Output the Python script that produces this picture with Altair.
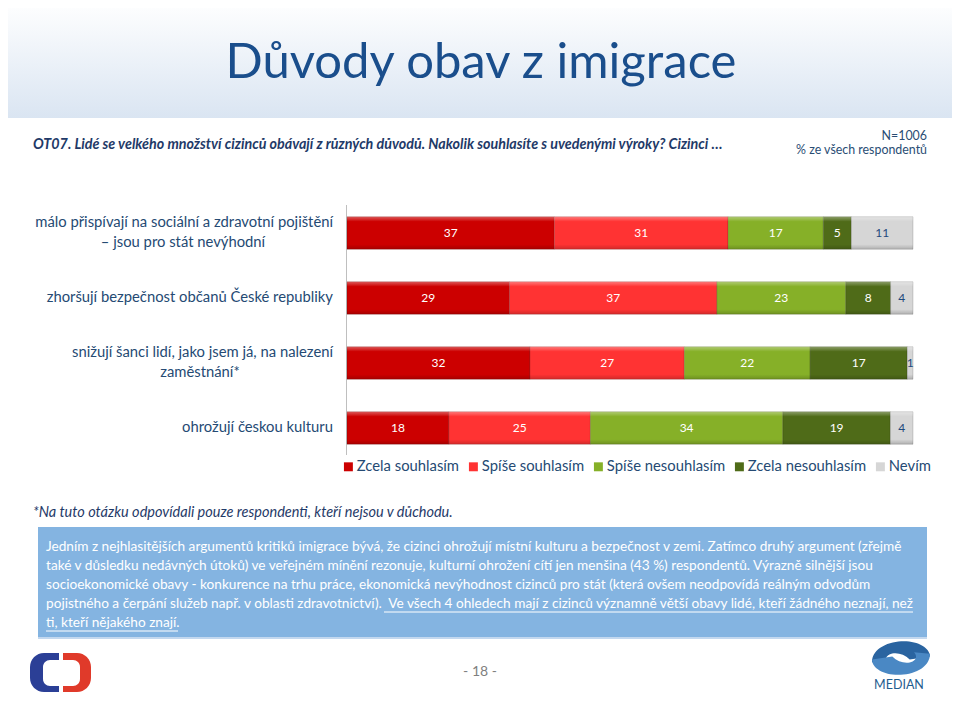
import altair as alt
import pandas as pd

# ---------------- data ----------------
title_text = "Důvody obav z imigrace"
question_text = ("OT07. Lidé se velkého množství cizinců obávají z různých důvodů. "
                 "Nakolik souhlasíte s uvedenými výroky? Cizinci …")
sample_lines = ["N=1006", "% ze všech respondentů"]
footnote_text = "*Na tuto otázku odpovídali pouze respondenti, kteří nejsou v důchodu."
page_text = "- 18 -"

categories = [
    "málo přispívají na sociální a zdravotní pojištění – jsou pro stát nevýhodní",
    "zhoršují bezpečnost občanů České republiky",
    "snižují šanci lidí, jako jsem já, na nalezení zaměstnání*",
    "ohrožují českou kulturu",
]
label_line1 = [
    "málo přispívají na sociální a zdravotní pojištění",
    "zhoršují bezpečnost občanů České republiky",
    "snižují šanci lidí, jako jsem já, na nalezení",
    "ohrožují českou kulturu",
]
label_line2 = ["– jsou pro stát nevýhodní", "", "zaměstnání*", ""]

responses = ["Zcela souhlasím", "Spíše souhlasím", "Spíše nesouhlasím", "Zcela nesouhlasím", "Nevím"]
zcela_souhlasim = [37, 29, 32, 18]
spise_souhlasim = [31, 37, 27, 25]
spise_nesouhlasim = [17, 23, 22, 34]
zcela_nesouhlasim = [5, 8, 17, 19]
nevim = [11, 4, 1, 4]
series = [zcela_souhlasim, spise_souhlasim, spise_nesouhlasim, zcela_nesouhlasim, nevim]
colors = ["#CC0000", "#FF3333", "#86B028", "#4F6B18", "#D6D6D6"]

box_lines_plain = [
    "Jedním z nejhlasitějších argumentů kritiků imigrace bývá, že cizinci ohrožují místní kulturu a bezpečnost v zemi. Zatímco druhý argument (zřejmě",
    "také v důsledku nedávných útoků) ve veřejném mínění rezonuje, kulturní ohrožení cítí jen menšina (43 %) respondentů. Výrazně silnější jsou",
    "socioekonomické obavy - konkurence na trhu práce, ekonomická nevýhodnost cizinců pro stát (která ovšem neodpovídá reálným odvodům",
    "pojistného a čerpání služeb např. v oblasti zdravotnictví).",
]
box_lines_underlined = [
    "Ve všech 4 ohledech mají z cizinců významně větší obavy lidé, kteří žádného neznají, než",
    "ti, kteří nějakého znají.",
]

# ---------------- tables ----------------
rows = []
for i, cat in enumerate(categories):
    for j, resp in enumerate(responses):
        rows.append({"cat": cat, "resp": resp, "value": series[j][i], "order": j})
df = pd.DataFrame(rows)
df_labels = pd.DataFrame({"cat": categories, "line1": label_line1, "line2": label_line2})
one = pd.DataFrame({"a": [0]})

FONT = "Lato"
LABEL_COLOR = "#254A73"
BOX_FS = 13.65
ROW_FS = 14.8

xscale = alt.Scale(domain=[0, 1], range=[339, 905], nice=False, zero=False)
yscale = alt.Scale(domain=categories, range=[192.5, 452.5], paddingInner=0.5, paddingOuter=0.25)

# ---------------- decorations ----------------
header = alt.Chart(one).mark_rect(
    color=alt.LinearGradient(gradient="linear", x1=0, y1=0, x2=0, y2=1,
                             stops=[alt.GradientStop(color="#FFFFFF", offset=0),
                                    alt.GradientStop(color="#DAE5F2", offset=1)])
).encode(x=alt.value(-8), x2=alt.value(944), y=alt.value(-8), y2=alt.value(110))

title = alt.Chart(one).mark_text(text=title_text, font=FONT, fontSize=49, color="#1A4E8C",
                                 align="center", baseline="middle").encode(
    x=alt.value(473), y=alt.value(55))

question = alt.Chart(one).mark_text(text=question_text, font=FONT, fontSize=14.3, fontStyle="italic",
                                    fontWeight="bold", color="#1F3A68", align="left",
                                    baseline="middle").encode(x=alt.value(25), y=alt.value(137))

sample1 = alt.Chart(one).mark_text(text=sample_lines[0], font=FONT, fontSize=12.4, color="#2A4D74",
                                   align="right", baseline="middle").encode(x=alt.value(919), y=alt.value(128))
sample2 = alt.Chart(one).mark_text(text=sample_lines[1], font=FONT, fontSize=12.4, color="#2A4D74",
                                   align="right", baseline="middle").encode(x=alt.value(919), y=alt.value(142))

axis_line = alt.Chart(one).mark_rule(color="#BFBFBF", strokeWidth=1).encode(
    x=alt.value(338.5), y=alt.value(197), y2=alt.value(447))

# ---------------- bars ----------------
base = alt.Chart(df).transform_stack(
    stack="value", groupby=["cat"], as_=["v0", "v1"], offset="normalize",
    sort=[alt.SortField("order", order="ascending")]
).transform_calculate(mid="(datum.v0 + datum.v1) / 2")

bars = base.mark_bar(stroke="rgba(0,0,0,0.25)", strokeWidth=0.6).encode(
    x=alt.X("v0:Q", scale=xscale, axis=None),
    x2="v1:Q",
    y=alt.Y("cat:N", scale=yscale, axis=None),
    color=alt.Color("resp:N", scale=alt.Scale(domain=responses, range=colors),
                    legend=alt.Legend(orient="none", legendX=333, legendY=451, direction="horizontal",
                                      title=None, symbolType="square", symbolSize=80,
                                      symbolStrokeWidth=0, labelFont=FONT, labelFontSize=14.8,
                                      labelColor=LABEL_COLOR, columnPadding=6, labelOffset=1)),
)

# subtle bevel overlay (highlight on top edge, shade on bottom edge)
bevel = base.mark_bar(
    color=alt.LinearGradient(gradient="linear", x1=0, y1=0, x2=0, y2=1,
                             stops=[alt.GradientStop(color="rgba(255,255,255,0.35)", offset=0),
                                    alt.GradientStop(color="rgba(255,255,255,0)", offset=0.15),
                                    alt.GradientStop(color="rgba(0,0,0,0)", offset=0.85),
                                    alt.GradientStop(color="rgba(0,0,0,0.18)", offset=1)])
).encode(
    x=alt.X("v0:Q", scale=xscale, axis=None),
    x2="v1:Q",
    y=alt.Y("cat:N", scale=yscale, axis=None),
)

values = base.mark_text(font=FONT, fontSize=12, align="center", baseline="middle").encode(
    x=alt.X("mid:Q", scale=xscale, axis=None),
    y=alt.Y("cat:N", scale=yscale, axis=None),
    text="value:Q",
    color=alt.condition("datum.resp == 'Nevím'", alt.value("#1F497D"), alt.value("white")),
)

# ---------------- row labels ----------------
lab = alt.Chart(df_labels)
lab_multi = lab.transform_filter("datum.line2 != ''").mark_text(
    font=FONT, fontSize=ROW_FS, color=LABEL_COLOR, align="right", baseline="middle", dy=-10
).encode(x=alt.value(325), y=alt.Y("cat:N", scale=yscale, axis=None), text="line1:N")
lab_single = lab.transform_filter("datum.line2 == ''").mark_text(
    font=FONT, fontSize=ROW_FS, color=LABEL_COLOR, align="right", baseline="middle"
).encode(x=alt.value(325), y=alt.Y("cat:N", scale=yscale, axis=None), text="line1:N")
line2_layers = []
for idx, cx in [(0, 175), (2, 192)]:
    line2_layers.append(
        lab.transform_filter(alt.datum.cat == categories[idx]).mark_text(
            font=FONT, fontSize=ROW_FS, color=LABEL_COLOR, align="center", baseline="middle", dy=10
        ).encode(x=alt.value(cx), y=alt.Y("cat:N", scale=yscale, axis=None), text="line2:N")
    )

# ---------------- footnote & text box ----------------
footnote = alt.Chart(one).mark_text(text=footnote_text, font=FONT, fontSize=14.5, fontStyle="italic",
                                    color="#1F3A68", align="left", baseline="middle").encode(
    x=alt.value(25), y=alt.value(505))

box = alt.Chart(one).mark_rect(color="#84B4E1").encode(
    x=alt.value(30), x2=alt.value(919), y=alt.value(519), y2=alt.value(629))
box_edge = alt.Chart(one).mark_rule(color="#C3D8EF", strokeWidth=2).encode(
    x=alt.value(30), x2=alt.value(919), y=alt.value(630))

box_text = alt.Chart(one).mark_text(text="\n".join(box_lines_plain), lineBreak="\n", lineHeight=19,
                                    font=FONT, fontSize=BOX_FS, color="white", align="left",
                                    baseline="middle").encode(x=alt.value(38), y=alt.value(539))
box_u1 = alt.Chart(one).mark_text(text=box_lines_underlined[0], font=FONT, fontSize=BOX_FS, color="white",
                                  align="right", baseline="middle").encode(x=alt.value(905), y=alt.value(596))
box_u2 = alt.Chart(one).mark_text(text=box_lines_underlined[1], font=FONT, fontSize=BOX_FS, color="white",
                                  align="left", baseline="middle").encode(x=alt.value(38), y=alt.value(615))
ul1 = alt.Chart(one).mark_rule(color="white", strokeWidth=1).encode(
    x=alt.value(376), x2=alt.value(905), y=alt.value(604))
ul2 = alt.Chart(one).mark_rule(color="white", strokeWidth=1).encode(
    x=alt.value(38), x2=alt.value(170), y=alt.value(623))

# ---------------- footer ----------------
page = alt.Chart(one).mark_text(text=page_text, font=FONT, fontSize=14, color="#7F7F7F",
                                align="center", baseline="middle").encode(x=alt.value(472), y=alt.value(664))

ct_blue = alt.Chart(one).mark_rect(color="#2B3F96", cornerRadiusTopLeft=14, cornerRadiusBottomLeft=14).encode(
    x=alt.value(22), x2=alt.value(51), y=alt.value(645), y2=alt.value(684))
ct_red = alt.Chart(one).mark_rect(color="#E03A2A", cornerRadiusTopRight=14, cornerRadiusBottomRight=14).encode(
    x=alt.value(55), x2=alt.value(83), y=alt.value(645), y2=alt.value(684))
ct_inner = alt.Chart(one).mark_rect(color="white", cornerRadius=7).encode(
    x=alt.value(35), x2=alt.value(72), y=alt.value(652), y2=alt.value(678))

swirl_a = ("M -1,0.15 C -1,-0.35 -0.4,-0.58 0.1,-0.58 C 0.6,-0.58 1,-0.35 1,-0.05 "
           "L 0.3,0.05 C 0.1,-0.15 -0.2,-0.22 -0.4,-0.12 C -0.55,-0.04 -0.55,0.08 -0.45,0.2 Z")
swirl_b = ("M 1,-0.15 C 1,0.35 0.4,0.58 -0.1,0.58 C -0.6,0.58 -1,0.35 -1,0.05 "
           "L -0.3,-0.05 C -0.1,0.15 0.2,0.22 0.4,0.12 C 0.55,0.04 0.55,-0.08 0.45,-0.2 Z")
logo_a = alt.Chart(one).mark_point(shape=swirl_a, filled=True, size=3364, color="#2A64A0", opacity=1).encode(
    x=alt.value(893), y=alt.value(650))
logo_b = alt.Chart(one).mark_point(shape=swirl_b, filled=True, size=3364, color="#4A88C4", opacity=1).encode(
    x=alt.value(893), y=alt.value(650))
median = alt.Chart(one).mark_text(text="MEDIAN", font=FONT, fontSize=12.5, color="#1F5D8F",
                                  align="center", baseline="middle").encode(x=alt.value(891), y=alt.value(677))

chart = alt.layer(
    header, title, question, sample1, sample2, axis_line,
    bars, bevel, values, lab_multi, lab_single, *line2_layers,
    footnote, box, box_edge, box_text, box_u1, box_u2, ul1, ul2,
    page, ct_blue, ct_red, ct_inner, logo_a, logo_b, median,
).properties(
    width=944, height=686, autosize=alt.AutoSizeParams(type="none"), padding=0, background="white"
).configure_view(stroke=None)

chart.save("out.html", embed_options={"renderer": "svg", "actions": False})
